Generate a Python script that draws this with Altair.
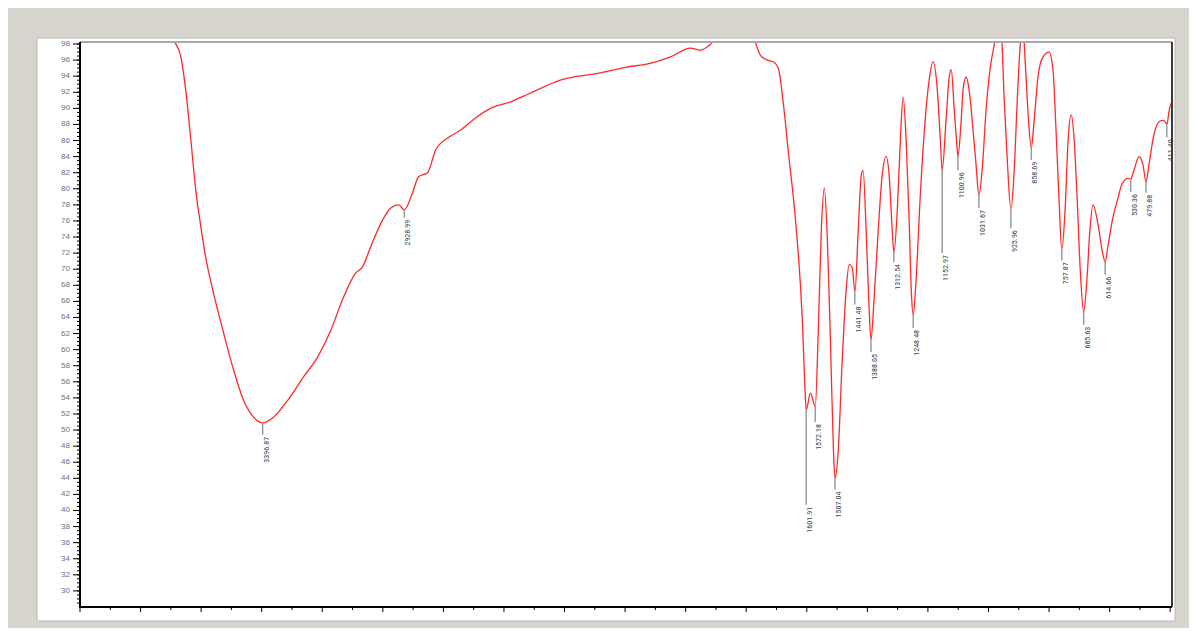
import altair as alt
import pandas as pd

# ---- spectrum (wavenumber cm-1, %T) ----
wavenumber = [4000, 3720, 3690, 3667, 3651, 3634, 3618, 3601, 3585, 3559, 3526, 3493, 3460, 3427,
              3397, 3361, 3314, 3262, 3215, 3172, 3130, 3090, 3067, 3040, 3001, 2974, 2948, 2929,
              2902, 2882, 2852, 2826, 2786, 2743, 2694, 2645, 2578, 2513, 2414, 2282, 2199, 2117,
              2050, 1984, 1951, 1925, 1899, 1860, 1790, 1770, 1753, 1730, 1711, 1694, 1678, 1661,
              1638, 1615, 1605, 1602, 1588, 1572, 1562, 1552, 1542, 1532, 1522, 1512, 1507, 1496,
              1483, 1470, 1460, 1450, 1441, 1430, 1420, 1414, 1404, 1394, 1388, 1378, 1364, 1351,
              1338, 1328, 1318, 1312.5, 1301, 1291, 1282, 1272, 1262, 1255, 1248.5, 1239, 1226,
              1209, 1196, 1183, 1169, 1159, 1153, 1140, 1130, 1123, 1113, 1103, 1101, 1090, 1084,
              1074, 1064, 1051, 1041, 1031.7, 1021, 1008, 995, 981, 968, 958, 948, 938, 926, 915,
              905, 895, 886, 879, 869, 858.7, 849, 836, 820, 800, 787, 777, 767, 757.9, 747, 737,
              727, 717, 707, 697, 685.6, 675, 665, 655, 638, 625, 614.7, 605, 592, 572, 560, 540,
              530.4, 522, 503, 490, 479.9, 470, 455, 440, 427, 418, 411, 403, 396]
transmittance = [105, 102.0, 98.5, 96.4, 92.3, 86.1, 79.9, 75.3, 71.5, 67.0, 62.1, 57.5, 53.7, 51.6,
                 50.9, 51.6, 53.7, 56.6, 59.1, 62.4, 66.5, 69.5, 70.3, 72.8, 76.1, 77.6, 78.0, 77.4,
                 79.5, 81.5, 82.0, 84.8, 86.3, 87.3, 88.8, 90.0, 90.8, 91.9, 93.5, 94.4, 95.1, 95.6,
                 96.4, 97.5, 97.25, 97.75, 98.75, 101, 101, 98.25, 96.6, 96.0, 95.8, 95.0, 90.8, 84.6,
                 76.4, 63.9, 54.4, 52.5, 54.6, 52.9, 62.4, 74.9, 80.1, 73.6, 61.2, 47.5, 44.0, 47.5,
                 58.7, 67.4, 70.6, 70.2, 67.2, 74.9, 81.7, 82.3, 74.9, 64.9, 61.2, 66.2, 74.9, 81.7,
                 84.0, 81.7, 74.9, 72.1, 77.4, 86.1, 91.4, 86.1, 76.1, 67.4, 64.3, 68.7, 78.6,
                 88.6, 93.5, 95.8, 92.3, 86.1, 82.3, 88.6, 93.8, 94.8, 89.8, 84.8, 84.0, 88.6, 92.3,
                 93.9, 92.3, 87.3, 83.0, 79.2, 82.3, 89.8, 94.8, 97.9, 100.5, 99.5, 91.0, 83.6, 77.4, 82.3,
                 91.0, 97.9, 100.0, 96.0, 89.2, 85.1, 88.6, 94.1, 96.4, 97.0, 94.8, 87.3, 78.6, 72.4, 77.4, 86.1,
                 89.2, 86.1, 78.6, 69.9, 64.7, 68.7, 74.9, 78.0, 75.5, 72.4, 70.9, 73.0, 75.9, 78.9, 80.5, 81.3,
                 81.2, 82.0, 84.0, 83.0, 80.9, 83.0, 86.5, 88.2, 88.5, 88.4, 88.0, 89.8, 90.7]

# ---- peak picks ----
peak_wn = [3396.87, 2928.99, 1601.91, 1572.18, 1507.04, 1441.48, 1388.05, 1312.54, 1248.48, 1152.97,
           1100.96, 1031.67, 925.96, 858.69, 757.87, 685.63, 614.66, 530.36, 479.88, 411.40]
peak_t = [50.9, 77.4, 52.5, 52.9, 44.0, 67.2, 61.2, 72.1, 64.3, 82.3,
          84.0, 79.2, 77.4, 85.1, 72.4, 64.7, 70.9, 81.2, 80.9, 88.0]
peak_end = [49.4, 76.4, 40.7, 51.0, 42.6, 65.6, 59.7, 70.9, 62.7, 72.0,
            82.3, 77.6, 75.1, 83.6, 71.1, 63.1, 69.3, 79.6, 79.5, 86.4]
peak_text = ["3396.87", "2928.99", "1601.91", "1572.18", "1507.04", "1441.48", "1388.05", "1312.54",
             "1248.48", "1152.97", "1100.96", "1031.67", "925.96", "858.69", "757.87", "685.63",
             "614.66", "530.36", "479.88", "411.40"]

# ---- axis ticks ----
y_label_ticks = list(range(30, 99, 2))
y_minor_ticks = [v / 2 for v in range(57, 197)]
x_major_ticks = list(range(400, 4001, 200))
x_minor_ticks = list(range(500, 4000, 200))

W, H = 1092, 565
xs = alt.Scale(domain=[394, 4000], reverse=True, nice=False, zero=False)
ys = alt.Scale(domain=[28, 98.25], nice=False, zero=False)

spec = pd.DataFrame({"wn": wavenumber, "t": transmittance})
peaks = pd.DataFrame({"wn": peak_wn, "t": peak_t, "t_end": peak_end, "label": peak_text})
one = pd.DataFrame({"a": [0]})
ylab = pd.DataFrame({"v": y_label_ticks, "s": [str(v) for v in y_label_ticks]})

panel = alt.Chart(one).mark_rect(fill="white", stroke="#b8b8b8", strokeWidth=1).encode(
    x=alt.value(-43), x2=alt.value(W + 3), y=alt.value(-4), y2=alt.value(H + 14))

top_edge = alt.Chart(one).mark_rule(color="#a8a8a8", strokeWidth=2).encode(
    x=alt.value(0), x2=alt.value(W), y=alt.value(0))
right_edge = alt.Chart(one).mark_rule(color="#3a3a3a", strokeWidth=2).encode(
    x=alt.value(W), y=alt.value(0), y2=alt.value(H))
y_domain = alt.Chart(one).mark_rule(color="black", strokeWidth=2).encode(
    x=alt.value(0), y=alt.value(0), y2=alt.value(H + 1))
x_domain = alt.Chart(one).mark_rule(color="black", strokeWidth=2).encode(
    x=alt.value(-1), x2=alt.value(W), y=alt.value(H))

line = alt.Chart(spec).mark_line(color="#ff2a2a", strokeWidth=1.3, clip=True,
                                 interpolate="monotone").encode(
    x=alt.X("wn:Q", scale=xs, sort=None, axis=None),
    y=alt.Y("t:Q", scale=ys, axis=None),
    order=alt.Order("idx:Q"),
).transform_window(idx="row_number()")

y_major = alt.Chart(ylab).mark_rule(color="black", strokeWidth=1).encode(
    y=alt.Y("v:Q", scale=ys, axis=None), x=alt.value(-7), x2=alt.value(0))
y_labels = alt.Chart(ylab).mark_text(align="right", baseline="middle", fontSize=8, color="#6b6f86",
                                     font="Liberation Sans").encode(
    y=alt.Y("v:Q", scale=ys, axis=None), x=alt.value(-10), text="s:N")
y_minor = alt.Chart(pd.DataFrame({"v": y_minor_ticks})).mark_rule(color="black", strokeWidth=1).encode(
    y=alt.Y("v:Q", scale=ys, axis=None), x=alt.value(-3), x2=alt.value(0))
x_major = alt.Chart(pd.DataFrame({"v": x_major_ticks})).mark_rule(color="black", strokeWidth=1).encode(
    x=alt.X("v:Q", scale=xs, axis=None), y=alt.value(H), y2=alt.value(H + 5))
x_minor = alt.Chart(pd.DataFrame({"v": x_minor_ticks})).mark_rule(color="black", strokeWidth=1).encode(
    x=alt.X("v:Q", scale=xs, axis=None), y=alt.value(H), y2=alt.value(H + 3))

peak_lines = alt.Chart(peaks).mark_rule(color="#9a9a9a", strokeWidth=1.5).encode(
    x=alt.X("wn:Q", scale=xs, axis=None), y=alt.Y("t:Q", scale=ys, axis=None), y2="t_end:Q")

peak_labels = alt.Chart(peaks).mark_text(
    angle=270, align="right", baseline="top", dx=-2, fontSize=8, color="#3c4152",
    font="Liberation Sans Narrow, Roboto Condensed, Liberation Sans").encode(
    x=alt.X("wn:Q", scale=xs, axis=None), y=alt.Y("t_end:Q", scale=ys, axis=None), text="label:N")

chart = alt.layer(panel, line, top_edge, y_major, y_minor, y_labels, x_major, x_minor,
                  peak_lines, peak_labels, right_edge, y_domain, x_domain).properties(
    width=W, height=H,
    autosize=alt.AutoSizeParams(type="none"),
    padding={"left": 72, "top": 34, "right": 17, "bottom": 21},
    background="#d8d5ce",
).configure_view(stroke=None)

chart.save("out.html", embed_options={"renderer": "svg", "actions": False})
